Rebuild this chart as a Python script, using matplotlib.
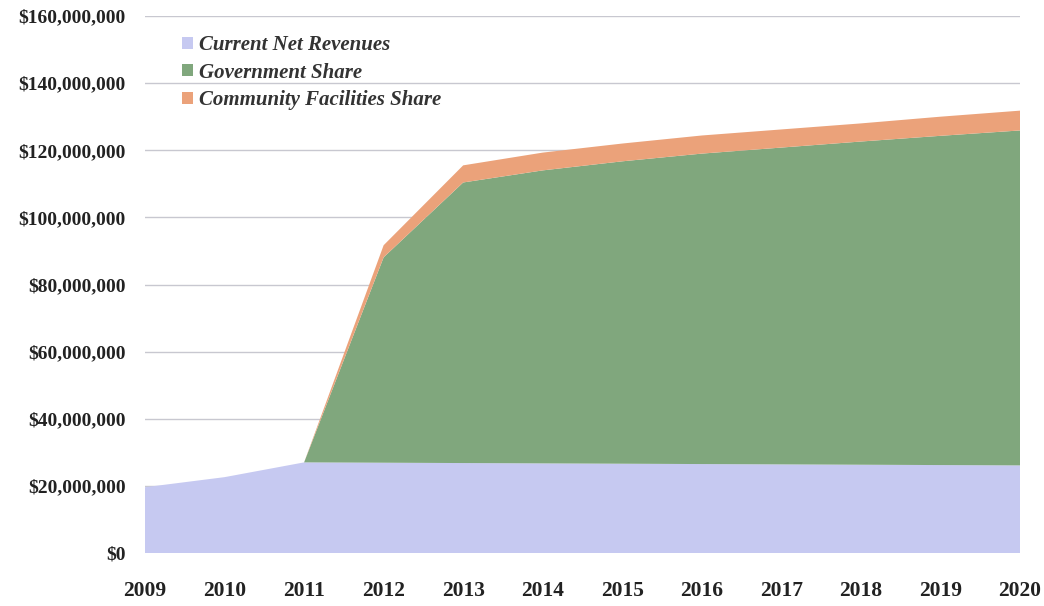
import matplotlib
matplotlib.use("Agg")
import matplotlib.pyplot as plt
from matplotlib.ticker import FuncFormatter, MultipleLocator
from matplotlib.patches import Patch

years = [2009, 2010, 2011, 2012, 2013, 2014, 2015, 2016, 2017, 2018, 2019, 2020]
current_net = [19.6, 22.6, 27.0, 26.9, 26.8, 26.7, 26.6, 26.5, 26.4, 26.3, 26.2, 26.1]
government = [0.0, 0.0, 0.0, 61.2, 83.6, 87.3, 90.1, 92.5, 94.4, 96.3, 98.1, 99.8]
community = [0.0, 0.0, 0.0, 3.6, 5.1, 5.3, 5.3, 5.4, 5.4, 5.4, 5.7, 5.9]
series_names = ["Current Net Revenues", "Government Share", "Community Facilities Share"]
colors = ["#c6c9f1", "#80a77d", "#eba27a"]

scale = 1e6
fig = plt.figure(figsize=(10.44, 6.06), dpi=100)
ax = fig.add_axes([145/1044, 53/606, 875/1044, 537/606])

ax.stackplot(years,
             [v*scale for v in current_net],
             [v*scale for v in government],
             [v*scale for v in community],
             colors=colors, linewidth=0, zorder=2)

ax.set_xlim(2009, 2020)
ax.set_ylim(0, 160e6)
ax.yaxis.set_major_locator(MultipleLocator(20e6))
ax.yaxis.set_major_formatter(FuncFormatter(lambda v, p: "${:,.0f}".format(v)))
ax.set_xticks(years)
ax.grid(axis="y", color="#c8c8d0", linewidth=1, zorder=1)
for s in ax.spines.values():
    s.set_visible(False)
ax.tick_params(length=0)
for lab in ax.get_yticklabels():
    lab.set_fontfamily("Liberation Serif")
    lab.set_fontweight("bold")
    lab.set_fontsize(14)
    lab.set_color("#222222")
for lab in ax.get_xticklabels():
    lab.set_fontfamily("Liberation Serif")
    lab.set_fontweight("bold")
    lab.set_fontsize(15.5)
    lab.set_color("#222222")
ax.tick_params(axis="y", pad=14)
ax.tick_params(axis="x", pad=20)

handles = [Patch(facecolor=c, edgecolor="none") for c in colors]
leg = ax.legend(handles, series_names, loc="upper left", bbox_to_anchor=(0.021, 0.999),
                frameon=False, handlelength=0.52, handleheight=0.52, handletextpad=0.28,
                labelspacing=0.36,
                prop={"family": "Liberation Serif", "style": "italic", "weight": "bold", "size": 15})
for t in leg.get_texts():
    t.set_color("#333333")

fig.savefig("out.png", dpi=100)
